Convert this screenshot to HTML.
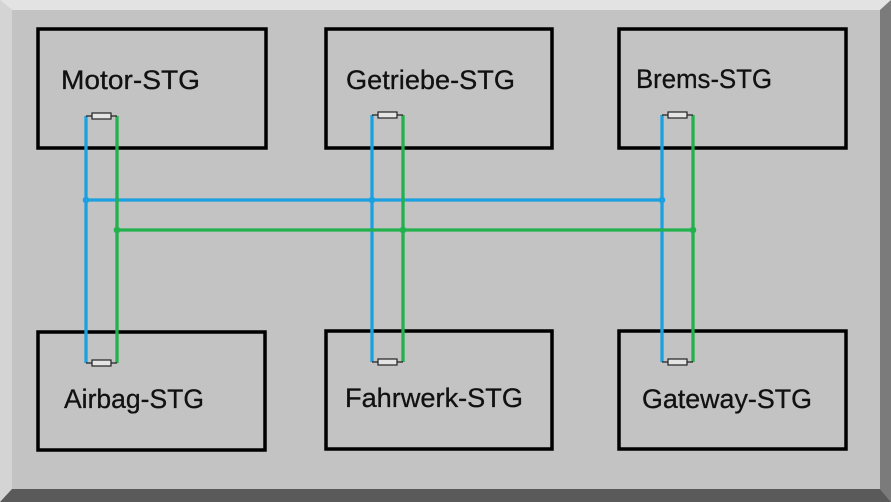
<!DOCTYPE html>
<html><head><meta charset="utf-8"><style>
html,body{margin:0;padding:0;background:#c3c3c3;}
svg{display:block;}
text{font-family:"Liberation Sans",sans-serif;font-size:27px;fill:#111;stroke:#111;stroke-width:0.3;}
</style></head><body>
<svg width="891" height="502" viewBox="0 0 891 502" xmlns="http://www.w3.org/2000/svg">
<rect x="0" y="0" width="891" height="502" fill="#c3c3c3"/>
<!-- bevel -->
<polygon points="0,0 891,0 880,10 12,10" fill="#e3e3e3"/>
<polygon points="0,0 12,10 12,489 0,502" fill="#d4d4d4"/>
<polygon points="891,0 891,502 880,489 880,10" fill="#7b7b7b"/>
<polygon points="0,502 12,489 880,489 891,502" fill="#5a5a5a"/>

<!-- boxes -->
<g fill="none" stroke="#000" stroke-width="3.5">
<rect x="38" y="29" width="228" height="119"/>
<rect x="326" y="29" width="226" height="119"/>
<rect x="619" y="29" width="227" height="119"/>
<rect x="38" y="332" width="227" height="118"/>
<rect x="326" y="331" width="226" height="118"/>
<rect x="619" y="331" width="227" height="118"/>
</g>

<!-- labels -->
<text x="61" y="89" textLength="139" lengthAdjust="spacingAndGlyphs">Motor-STG</text>
<text x="346" y="89" textLength="169" lengthAdjust="spacingAndGlyphs">Getriebe-STG</text>
<text x="636" y="88" textLength="136" lengthAdjust="spacingAndGlyphs">Brems-STG</text>
<text x="64" y="408" textLength="140" lengthAdjust="spacingAndGlyphs">Airbag-STG</text>
<text x="345" y="407" textLength="178" lengthAdjust="spacingAndGlyphs">Fahrwerk-STG</text>
<text x="642" y="408" textLength="170" lengthAdjust="spacingAndGlyphs">Gateway-STG</text>

<!-- bus lines -->
<g stroke-width="3.3" fill="none">
<line x1="86" y1="116" x2="86" y2="363" stroke="#1ba1e2"/>
<line x1="372" y1="115" x2="372" y2="362" stroke="#1ba1e2"/>
<line x1="662" y1="115" x2="662" y2="362" stroke="#1ba1e2"/>
<line x1="86" y1="200" x2="662" y2="200" stroke="#1ba1e2"/>
<line x1="117" y1="116" x2="117" y2="363" stroke="#22b14c"/>
<line x1="403" y1="115" x2="403" y2="362" stroke="#22b14c"/>
<line x1="693" y1="115" x2="693" y2="362" stroke="#22b14c"/>
<line x1="117" y1="230" x2="693" y2="230" stroke="#22b14c"/>
</g>
<!-- junction dots -->
<g fill="#1ba1e2"><circle cx="86" cy="200" r="3.3"/><circle cx="372" cy="200" r="3.3"/><circle cx="662" cy="200" r="3.3"/></g>
<g fill="#22b14c"><circle cx="117" cy="230" r="3.3"/><circle cx="403" cy="230" r="3.3"/><circle cx="693" cy="230" r="3.3"/></g>

<!-- resistors -->
<g stroke="#222" stroke-width="1.2">
<line x1="86" y1="116" x2="117" y2="116"/>
<rect x="92" y="113" width="19" height="6" fill="#e4e4e4"/>
<line x1="372" y1="115" x2="403" y2="115"/>
<rect x="378" y="112" width="19" height="6" fill="#e4e4e4"/>
<line x1="662" y1="115" x2="693" y2="115"/>
<rect x="668" y="112" width="19" height="6" fill="#e4e4e4"/>
<line x1="86" y1="363" x2="117" y2="363"/>
<rect x="92" y="360" width="19" height="6" fill="#e4e4e4"/>
<line x1="372" y1="362" x2="403" y2="362"/>
<rect x="378" y="359" width="19" height="6" fill="#e4e4e4"/>
<line x1="662" y1="362" x2="693" y2="362"/>
<rect x="668" y="359" width="19" height="6" fill="#e4e4e4"/>
</g>
</svg>
</body></html>
